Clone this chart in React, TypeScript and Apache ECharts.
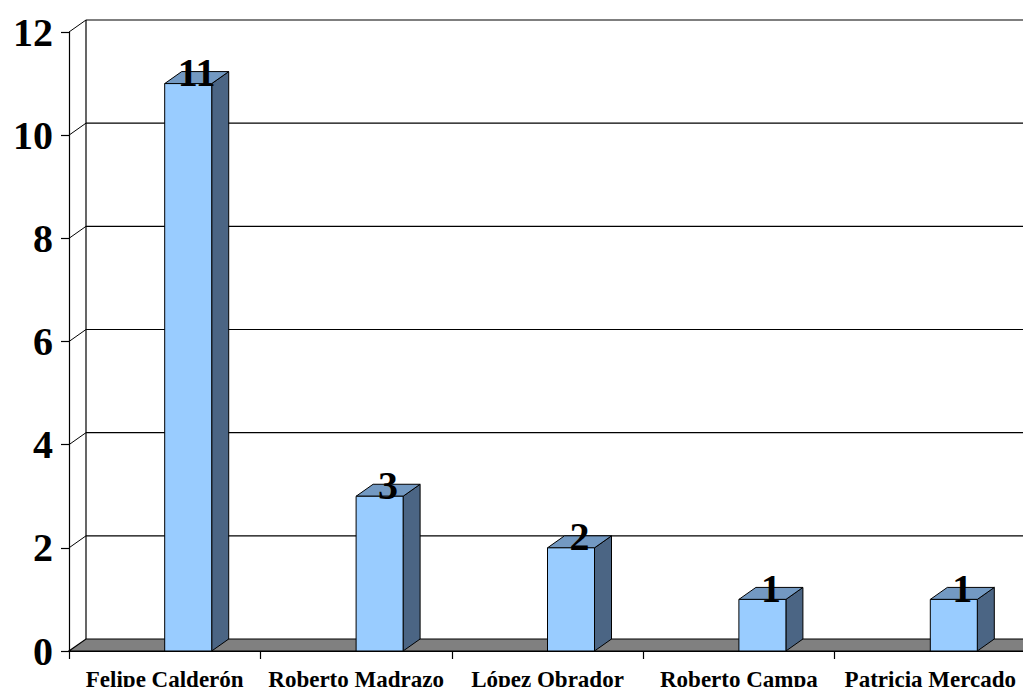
import React, { useEffect, useRef } from "react";
import * as echarts from "echarts";

// Candidates and their vote counts
const candidates = [
  "Felipe Calderón",
  "Roberto Madrazo",
  "López Obrador",
  "Roberto Campa",
  "Patricia Mercado",
];
const votes = [11, 3, 2, 1, 1];

// Value-axis ticks (also the back-wall gridlines)
const tickValues = [0, 2, 4, 6, 8, 10, 12];

// Pseudo-3D depth offset of the back wall
const DEPTH_X = 17;
const DEPTH_Y = 12;

const SERIF = "'Liberation Serif', 'Times New Roman', serif";

export default function App() {
  const ref = useRef<HTMLDivElement>(null);

  useEffect(() => {
    if (!ref.current) return;
    const chart = echarts.init(ref.current, null, { renderer: "svg" });

    const wallItem = (params: any, api: any) => {
      const v = api.value(1);
      const cs = params.coordSys;
      const x0 = cs.x;
      const x1 = cs.x + cs.width;
      const y = api.coord([0, v])[1];
      const children: any[] = [];
      if (v === 0) {
        // gray floor
        children.push({
          type: "polygon",
          shape: {
            points: [
              [x0, y],
              [x1, y],
              [x1 + DEPTH_X, y - DEPTH_Y],
              [x0 + DEPTH_X, y - DEPTH_Y],
            ],
          },
          style: { fill: "#808080", stroke: "#000", lineWidth: 1.2 },
        });
      } else {
        children.push({
          type: "line",
          shape: { x1: x0, y1: y, x2: x0 + DEPTH_X, y2: y - DEPTH_Y },
          style: { stroke: "#000", lineWidth: 1 },
        });
        children.push({
          type: "line",
          shape: { x1: x0 + DEPTH_X, y1: y - DEPTH_Y, x2: x1 + DEPTH_X, y2: y - DEPTH_Y },
          style: { stroke: "#000", lineWidth: 1.2 },
        });
      }
      if (v === tickValues[tickValues.length - 1]) {
        const yb = api.coord([0, 0])[1];
        children.push({
          type: "line",
          shape: { x1: x0 + DEPTH_X, y1: y - DEPTH_Y, x2: x0 + DEPTH_X, y2: yb - DEPTH_Y },
          style: { stroke: "#000", lineWidth: 1.2 },
        });
      }
      return { type: "group", children };
    };

    const barItem = (params: any, api: any) => {
      const idx = api.value(0);
      const val = api.value(1);
      const top = api.coord([idx, val]);
      const base = api.coord([idx, 0]);
      const band = api.size([1, 0])[0];
      const w = band * 0.2456;
      const xl = top[0];
      const xr = xl + w;
      const yt = top[1];
      const yb = base[1];
      const edge = { stroke: "#000", lineWidth: 1, lineJoin: "round" };
      return {
        type: "group",
        children: [
          {
            type: "polygon",
            shape: {
              points: [
                [xr, yt],
                [xr + DEPTH_X, yt - DEPTH_Y],
                [xr + DEPTH_X, yb - DEPTH_Y],
                [xr, yb],
              ],
            },
            style: { fill: "#4B6584", ...edge },
          },
          {
            type: "polygon",
            shape: {
              points: [
                [xl, yt],
                [xr, yt],
                [xr + DEPTH_X, yt - DEPTH_Y],
                [xl + DEPTH_X, yt - DEPTH_Y],
              ],
            },
            style: { fill: "#7399C2", ...edge },
          },
          {
            type: "rect",
            shape: { x: xl, y: yt, width: w, height: yb - yt },
            style: { fill: "#99CCFF", ...edge },
          },
          {
            type: "text",
            x: xl + w / 2 + DEPTH_X / 2,
            y: yt - 11,
            style: {
              text: String(val),
              fill: "#000",
              font: `bold 40px ${SERIF}`,
              align: "center",
              verticalAlign: "middle",
            },
          },
        ],
      };
    };

    chart.setOption({
      animation: false,
      backgroundColor: "#fff",
      grid: { left: 69, right: 5, top: 32, bottom: 44 },
      xAxis: {
        type: "category",
        data: candidates,
        boundaryGap: true,
        axisLine: { show: true, lineStyle: { color: "#000", width: 1.2 } },
        axisTick: { show: true, length: 8, lineStyle: { color: "#000", width: 1.2 } },
        axisLabel: {
          color: "#000",
          fontFamily: SERIF,
          fontWeight: "bold",
          fontSize: 23,
          margin: 17,
          interval: 0,
        },
        splitLine: { show: false },
        z: 10,
      },
      yAxis: {
        type: "value",
        min: 0,
        max: 12,
        interval: 2,
        axisLine: { show: true, lineStyle: { color: "#000", width: 1.2 } },
        axisTick: { show: true, length: 8, lineStyle: { color: "#000", width: 1.2 } },
        axisLabel: {
          color: "#000",
          fontFamily: SERIF,
          fontWeight: "bold",
          fontSize: 40,
          margin: 16,
        },
        splitLine: { show: false },
        z: 10,
      },
      series: [
        {
          type: "custom",
          name: "wall",
          clip: false,
          silent: true,
          z: 1,
          encode: { x: 0, y: 1 },
          data: tickValues.map((v) => [0, v]),
          renderItem: wallItem,
        },
        {
          type: "custom",
          name: "votes",
          clip: false,
          z: 2,
          encode: { x: 0, y: 1 },
          data: votes.map((v, i) => [i, v]),
          renderItem: barItem,
        },
      ],
    });

    return () => chart.dispose();
  }, []);

  return <div ref={ref} style={{ width: 1031, height: 695, margin: -8 }} />;
}
